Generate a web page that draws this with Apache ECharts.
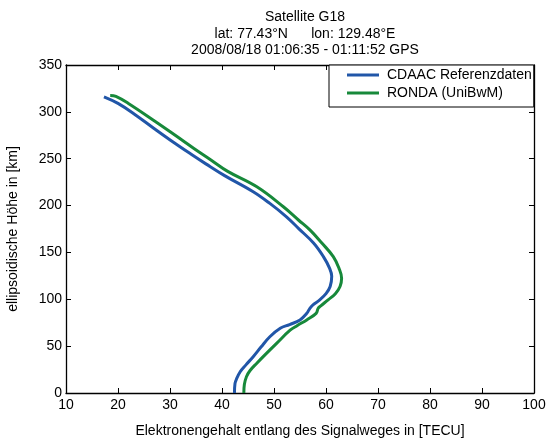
<!DOCTYPE html>
<html><head><meta charset="utf-8">
<script src="https://cdn.jsdelivr.net/npm/echarts@6/dist/echarts.min.js"></script>
<style>html,body{margin:0;padding:0;background:#fff}#c{width:547px;height:441px}</style>
</head><body><div id="c"></div>
<script>
const titleLines = ["Satellite G18", "lat: 77.43°N      lon: 129.48°E", "2008/08/18 01:06:35 - 01:11:52 GPS"];
const seriesNames = ["CDAAC Referenzdaten", "RONDA (UniBwM)"];
const xTicks = [10,20,30,40,50,60,70,80,90,100];
const yTicks = [0,50,100,150,200,250,300,350];
// Blue: CDAAC
const cdaacTEC = [17.3, 20.0, 23.3, 27.0, 30.8, 34.0, 36.9, 40.5, 46.0, 49.2, 52.4, 54.7, 57.6, 59.5, 60.7, 61.1, 60.8, 60.0, 58.8, 57.5, 56.9, 56.3, 55.0, 53.0, 51.2, 49.2, 47.5, 46.0, 44.6, 43.5, 42.8, 42.5, 42.4];
const cdaacH   = [316, 309, 297, 282, 267, 255, 244.5, 232, 214.8, 202.3, 188, 175.7, 160, 145.5, 133, 124.5, 113.6, 106, 99.3, 94, 90.4, 85, 78, 73, 69.1, 60, 49, 38.7, 30, 22.7, 15, 10.2, 0];
// Green: RONDA
const rondaTEC = [18.5, 19.6, 22.0, 27.1, 31.0, 34.6, 37.8, 41.1, 46.7, 51.8, 54.7, 56.9, 59.2, 61.4, 62.5, 63.0, 62.7, 61.8, 60.4, 59.0, 58.5, 58.1, 56.3, 54.5, 53.1, 50.5, 48.5, 46.7, 45.4, 44.7, 44.3, 44.2];
const rondaH   = [317.5, 316.5, 309, 290, 275, 261, 249, 236.5, 220, 198.7, 184.6, 174, 160, 145.5, 133, 122.5, 113.6, 106, 99.3, 93, 90.4, 85, 78, 72, 67, 53, 42, 31.8, 24, 17.4, 9, 0];

const cdaac = cdaacTEC.map((v,i)=>[v, cdaacH[i]]);
const ronda = rondaTEC.map((v,i)=>[v, rondaH[i]]);
const font = "'Liberation Sans', Arial, sans-serif";
const chart = echarts.init(document.getElementById('c'), null, {renderer:'canvas'});
const axisCommon = {
  axisLine:{show:true,onZero:false,lineStyle:{color:'#000',width:1.3}},
  axisTick:{show:true,inside:true,length:5,lineStyle:{color:'#000'}},
  splitLine:{show:false}
};
chart.setOption({
  animation:false,
  title:{text:titleLines.join('\n'), left:300, textAlign:'center', top:4,
    textStyle:{fontFamily:font,fontSize:14,fontWeight:'normal',color:'#000',lineHeight:16.5}},
  legend:{orient:'vertical', left:329, top:65, data:seriesNames,
    borderColor:'#000', borderWidth:1, backgroundColor:'#fff',
    padding:[3,2,7,18], itemGap:4, itemWidth:32, itemHeight:3, icon:'rect',
    textStyle:{fontFamily:font,fontSize:14,color:'#000',padding:[0,0,0,3]}},
  grid:{left:66,right:13,top:65,bottom:48,containLabel:false,outerBoundsMode:'none'},
  xAxis:[
    Object.assign({type:'value',min:10,max:100,interval:10,position:'bottom',
      name:'Elektronengehalt entlang des Signalweges in [TECU]', nameLocation:'middle', nameGap:31,
      nameTextStyle:{fontFamily:font,fontSize:14,color:'#000'},
      axisLabel:{fontFamily:font,fontSize:14,color:'#000',margin:5}},axisCommon),
    Object.assign({type:'value',min:10,max:100,interval:10,position:'top',axisLabel:{show:false}},axisCommon)
  ],
  yAxis:[
    Object.assign({type:'value',min:0,max:350,interval:50,position:'left',
      name:'ellipsoidische Höhe in [km]', nameLocation:'middle', nameGap:46,
      nameTextStyle:{fontFamily:font,fontSize:14,color:'#000'},
      axisLabel:{fontFamily:font,fontSize:14,color:'#000',margin:4}},axisCommon),
    Object.assign({type:'value',min:0,max:350,interval:50,position:'right',axisLabel:{show:false}},axisCommon)
  ],
  series:[
    {name:seriesNames[0],type:'line',data:cdaac,smooth:0.4,showSymbol:false,
      lineStyle:{color:'#2156a8',width:3},itemStyle:{color:'#2156a8'}},
    {name:seriesNames[1],type:'line',data:ronda,smooth:0.4,showSymbol:false,
      lineStyle:{color:'#17893a',width:3},itemStyle:{color:'#17893a'}}
  ]
});
</script>
</body></html>
